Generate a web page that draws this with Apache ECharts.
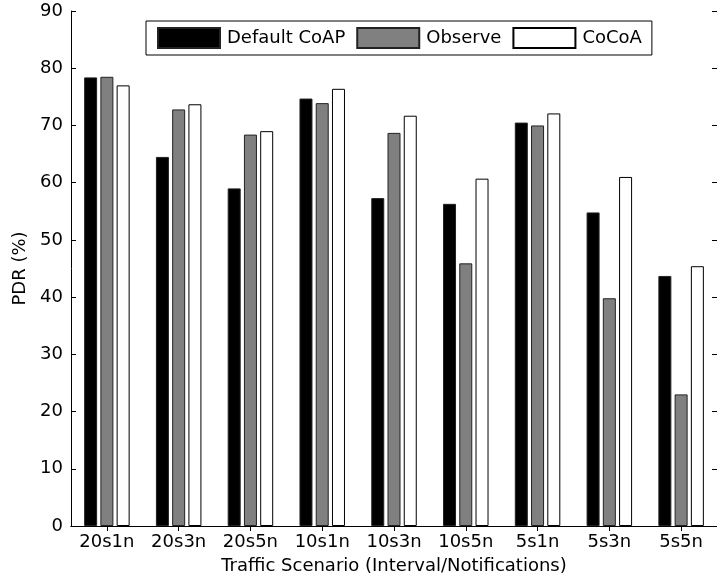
<!DOCTYPE html>
<html>
<head>
<meta charset="utf-8">
<script src="https://cdn.jsdelivr.net/npm/echarts@6/dist/echarts.min.js"></script>
<style>
html,body{margin:0;padding:0;background:#fff;}
#chart{width:717px;height:580px;}
</style>
</head>
<body>
<div id="chart"></div>
<script>
const categories = ['20s1n','20s3n','20s5n','10s1n','10s3n','10s5n','5s1n','5s3n','5s5n'];
const defaultCoap = [78.4, 64.5, 59.0, 74.7, 57.3, 56.3, 70.5, 54.8, 43.7];
const observe     = [78.5, 72.8, 68.4, 73.9, 68.7, 45.9, 70.0, 39.8, 23.0];
const cocoa       = [77.0, 73.7, 69.0, 76.4, 71.7, 60.7, 72.1, 61.0, 45.4];
const seriesNames = ['Default CoAP', 'Observe', 'CoCoA'];
const yTicks = {min: 0, max: 90, interval: 10};

const FONT = 'DejaVu Sans';
const FS = 18;
const chart = echarts.init(document.getElementById('chart'), null, {renderer: 'canvas'});

const barCommon = {type: 'bar', barWidth: 13, barGap: '25%', animation: false};

chart.setOption({
  backgroundColor: '#fff',
  animation: false,
  textStyle: {fontFamily: FONT, color: '#000'},
  grid: {left: 71, top: 11, width: 652.5, height: 515, containLabel: false},
  legend: {
    left: 146, top: 21,
    orient: 'horizontal',
    padding: [6, 10, 6, 11],
    itemWidth: 62, itemHeight: 20, itemGap: 11,
    borderColor: '#000', borderWidth: 1,
    backgroundColor: '#fff',
    icon: 'rect',
    textStyle: {fontFamily: FONT, fontSize: FS, color: '#000', padding: [0, 0, 0, 2]},
    data: seriesNames
  },
  xAxis: [{
    type: 'category', data: categories, position: 'bottom',
    name: 'Traffic Scenario (Interval/Notifications)',
    nameLocation: 'middle', nameGap: 31,
    nameTextStyle: {fontFamily: FONT, fontSize: FS, color: '#000'},
    axisLine: {show: true, lineStyle: {color: '#000', width: 1}},
    axisTick: {show: true, inside: true, alignWithLabel: true, length: 5, lineStyle: {color: '#000'}},
    axisLabel: {fontFamily: FONT, fontSize: FS, color: '#000', margin: 7},
    splitLine: {show: false}
  }, {
    type: 'category', data: categories, position: 'top',
    axisLine: {show: true, lineStyle: {color: '#000', width: 1}},
    axisTick: {show: true, inside: true, alignWithLabel: true, length: 5, lineStyle: {color: '#000'}},
    axisLabel: {show: false},
    splitLine: {show: false}
  }],
  yAxis: [{
    type: 'value', min: yTicks.min, max: yTicks.max, interval: yTicks.interval, position: 'left',
    name: 'PDR (%)', nameLocation: 'middle', nameGap: 39, nameRotate: 90,
    nameTextStyle: {fontFamily: FONT, fontSize: FS, color: '#000'},
    axisLine: {show: true, lineStyle: {color: '#000', width: 1}},
    axisTick: {show: true, inside: true, length: 5, lineStyle: {color: '#000'}},
    axisLabel: {fontFamily: FONT, fontSize: FS, color: '#000', margin: 8},
    splitLine: {show: false}
  }, {
    type: 'value', min: yTicks.min, max: yTicks.max, interval: yTicks.interval, position: 'right',
    axisLine: {show: true, lineStyle: {color: '#000', width: 1}},
    axisTick: {show: true, inside: true, length: 5, lineStyle: {color: '#000'}},
    axisLabel: {show: false},
    splitLine: {show: false}
  }],
  series: [
    Object.assign({}, barCommon, {name: seriesNames[0], data: defaultCoap,
      itemStyle: {color: '#000', borderColor: '#222', borderWidth: 1}}),
    Object.assign({}, barCommon, {name: seriesNames[1], data: observe,
      itemStyle: {color: '#808080', borderColor: '#222', borderWidth: 1}}),
    Object.assign({}, barCommon, {name: seriesNames[2], data: cocoa,
      itemStyle: {color: '#fff', borderColor: '#000', borderWidth: 1}})
  ]
});
</script>
</body>
</html>
